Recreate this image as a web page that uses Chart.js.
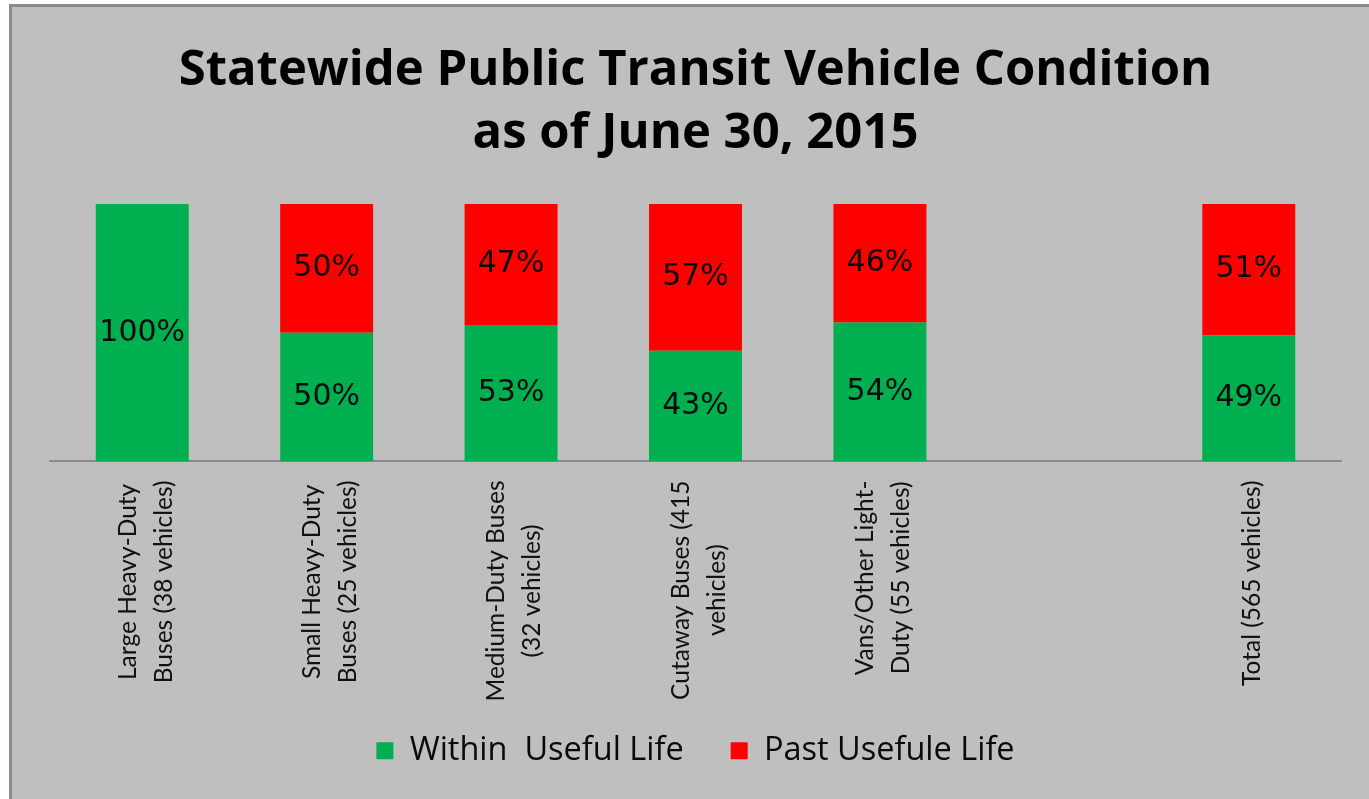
<!DOCTYPE html>
<html>
<head>
<meta charset="utf-8">
<script src="https://cdn.jsdelivr.net/npm/chart.js@4/dist/chart.umd.min.js"></script>
<style>
  html, body { margin: 0; padding: 0; background: #ffffff; }
  #wrap { position: absolute; left: 0; top: 0; width: 1369px; height: 799px; }
</style>
</head>
<body>
<div id="wrap"><canvas id="c" width="1369" height="799"></canvas></div>
<script>
// ---- data ----
const categories = [
  ["Large Heavy-Duty", "Buses (38 vehicles)"],
  ["Small Heavy-Duty", "Buses (25 vehicles)"],
  ["Medium-Duty Buses", "(32 vehicles)"],
  ["Cutaway Buses (415", "vehicles)"],
  ["Vans/Other Light-", "Duty (55 vehicles)"],
  [""],
  ["Total (565 vehicles)"]
];
const withinUsefulLife = [100, 50, 53, 43, 54, null, 49];
const pastUsefulLife   = [null, 50, 47, 57, 46, null, 51];
const seriesNames = ["Within  Useful Life", "Past Usefule Life"];
const titleLines = ["Statewide Public Transit Vehicle Condition", "as of June 30, 2015"];

// ---- styles ----
const GREEN = "#00b050";
const RED = "#ff0000";
const BG = "#bfbfbf";

const framePlugin = {
  id: "frame",
  beforeDraw(chart) {
    const ctx = chart.ctx;
    ctx.save();
    ctx.fillStyle = "#ffffff";
    ctx.fillRect(0, 0, chart.width, chart.height);
    ctx.fillStyle = BG;
    ctx.fillRect(9, 4, chart.width - 9, chart.height - 4);
    ctx.fillStyle = "#8a8a8a";
    ctx.fillRect(9, 4, 3, chart.height - 4);
    ctx.fillRect(9, 4, chart.width - 9, 3);
    ctx.restore();
  }
};

const valueLabelPlugin = {
  id: "valueLabels",
  afterDatasetsDraw(chart) {
    const ctx = chart.ctx;
    ctx.save();
    ctx.font = "30px 'DejaVu Sans'";
    ctx.fillStyle = "#0a0a0a";
    ctx.textAlign = "center";
    ctx.textBaseline = "middle";
    chart.data.datasets.forEach((ds, di) => {
      const meta = chart.getDatasetMeta(di);
      meta.data.forEach((bar, i) => {
        const v = ds.data[i];
        if (v === null || v === undefined) return;
        const yMid = (bar.y + bar.base) / 2;
        ctx.fillText(v + "%", bar.x, yMid);
      });
    });
    ctx.restore();
  }
};

const tickLabelPlugin = {
  id: "rotTicks",
  afterDraw(chart) {
    const ctx = chart.ctx;
    const xs = chart.scales.x;
    const y0 = chart.chartArea.bottom + 19;
    const stretch = 1.05;
    const lineGap = 36;
    ctx.save();
    ctx.font = "24.5px Lato";
    ctx.fillStyle = "#111111";
    ctx.textAlign = "center";
    ctx.textBaseline = "middle";
    categories.forEach((lines, i) => {
      const x = xs.getPixelForValue(i) + 3;
      const maxW = Math.max(...lines.map(l => ctx.measureText(l).width));
      ctx.save();
      ctx.translate(x, y0);
      ctx.rotate(-Math.PI / 2);
      ctx.scale(1, stretch);
      const n = lines.length;
      lines.forEach((l, j) => {
        ctx.fillText(l, -maxW / 2, ((j - (n - 1) / 2) * lineGap) / stretch);
      });
      ctx.restore();
    });
    ctx.restore();
  }
};

new Chart(document.getElementById("c"), {
  type: "bar",
  data: {
    labels: categories,
    datasets: [
      { label: seriesNames[0], data: withinUsefulLife, backgroundColor: GREEN,
        categoryPercentage: 1, barPercentage: 0.504 },
      { label: seriesNames[1], data: pastUsefulLife, backgroundColor: RED,
        categoryPercentage: 1, barPercentage: 0.504 }
    ]
  },
  options: {
    responsive: false,
    animation: false,
    layout: { padding: { left: 50, right: 28, top: 6, bottom: 22 } },
    scales: {
      x: {
        stacked: true,
        grid: { display: false },
        border: { display: true, color: "#8a8a8a", width: 2 },
        ticks: { display: false },
        afterFit(s) { s.height = 226; }
      },
      y: {
        stacked: true,
        min: 0, max: 100,
        display: false
      }
    },
    plugins: {
      title: {
        display: true,
        text: titleLines,
        color: "#000000",
        font: { family: "'Open Sans'", size: 49, weight: "bold", lineHeight: 1.29 },
        padding: { top: 33, bottom: 38.5 }
      },
      legend: {
        display: true,
        position: "bottom",
        labels: {
          color: "#0a0a0a",
          font: { family: "'Open Sans'", size: 32.5 },
          boxWidth: 17,
          boxHeight: 17,
          padding: 47
        }
      },
      tooltip: { enabled: false }
    }
  },
  plugins: [framePlugin, valueLabelPlugin, tickLabelPlugin]
});
</script>
</body>
</html>
